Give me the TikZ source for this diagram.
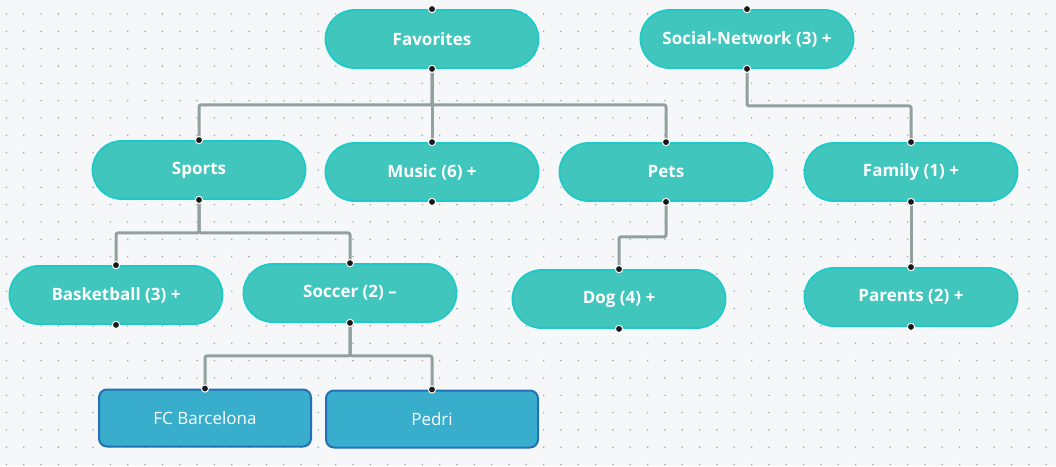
\documentclass[tikz,border=0pt]{standalone}
\usepackage{fontspec}
\setmainfont{Open Sans}

\begin{document}
\begin{tikzpicture}[x=1pt, y=-1pt, font=\fontsize{17}{20}\selectfont\bfseries,
	topic/.style={draw=teal, fill=tealfill, line width=1.8pt, text=white, rounded corners=29pt, minimum width=213pt, minimum height=58pt},
	leaf/.style={draw=leafline, fill=leaffill, line width=2pt, text=white, rounded corners=8pt, minimum width=212pt, minimum height=57pt},
	link/.style={draw=linkgray, line width=3pt, rounded corners=2pt},
	port/.style={fill=black!90, draw=white, line width=1pt}]
	\definecolor{bgcol}{RGB}{246, 247, 249}
	\definecolor{griddot}{RGB}{170, 176, 182}
	\definecolor{teal}{RGB}{30, 202, 200}
	\definecolor{tealfill}{RGB}{64, 198, 189}
	\definecolor{leaffill}{RGB}{56, 174, 204}
	\definecolor{leafline}{RGB}{34, 112, 182}
	\definecolor{linkgray}{RGB}{146, 160, 158}
	\useasboundingbox[fill=bgcol] (0,0) rectangle (1056,466);
	% dotted canvas
	\foreach \i in {0,...,60}
		\foreach \j in {0,...,26}
			\fill[griddot] ({6.4+17.33*\i}, {14+17.33*\j}) circle (0.9pt);
	% topic nodes
	\node[topic] (fav) at (432,39) {Favorites};
	\node[topic] (social) at (747,39) {Social-Network (3) +};
	\node[topic] (sports) at (199,170) {Sports};
	\node[topic] (music) at (432,172) {Music (6) +};
	\node[topic] (pets) at (666,172) {Pets};
	\node[topic] (family) at (911,172) {Family (1) +};
	\node[topic] (basket) at (116,295) {Basketball (3) +};
	\node[topic] (soccer) at (350,293) {Soccer (2) --};
	\node[topic] (dog) at (619,299) {Dog (4) +};
	\node[topic] (parents) at (911,297) {Parents (2) +};
	\node[leaf, font=\fontsize{17}{20}\selectfont] (barca) at (205,418) {FC Barcelona};
	\node[leaf, font=\fontsize{17}{20}\selectfont] (pedri) at (432,419) {Pedri};
	% links
	\draw[link] (fav.south) -- ++(0,36) -| (sports.north);
	\draw[link] (fav.south) -- (music.north);
	\draw[link] (fav.south) -- ++(0,36) -| (pets.north);
	\draw[link] (social.south) -- ++(0,37) -| (family.north);
	\draw[link] (sports.south) -- ++(0,33) -| (basket.north);
	\draw[link] (sports.south) -- ++(0,33) -| (soccer.north);
	\draw[link] (pets.south) -- ++(0,35) -| (dog.north);
	\draw[link] (family.south) -- (parents.north);
	\draw[link] (soccer.south) -- ++(0,33) -| (barca.north);
	\draw[link] (soccer.south) -- ++(0,33) -| (pedri.north);
	% ports
	\foreach \n in {fav,social,sports,music,pets,family,basket,soccer,dog,parents}{
		\draw[port] (\n.north) circle (3.6pt);
		\draw[port] (\n.south) circle (3.6pt);
	}
	\draw[port] (barca.north) circle (3.6pt);
	\draw[port] (pedri.north) circle (3.6pt);
\end{tikzpicture}
\end{document}
